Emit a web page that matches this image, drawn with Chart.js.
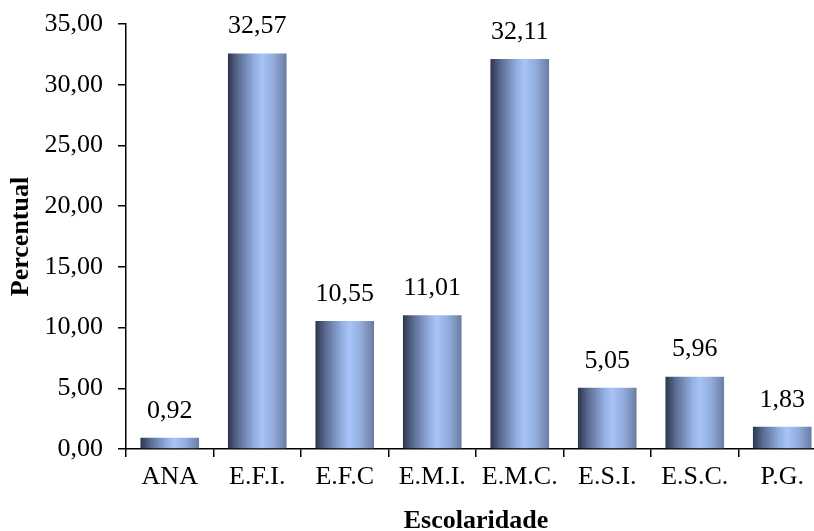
<!DOCTYPE html>
<html>
<head>
<meta charset="utf-8">
<script src="https://cdn.jsdelivr.net/npm/chart.js@4/dist/chart.umd.min.js"></script>
<style>
  html, body { margin: 0; padding: 0; background: #fff; overflow: hidden; }
  #wrap { width: 826px; height: 531px; }
</style>
</head>
<body>
<div id="wrap"><canvas id="chart"></canvas></div>
<script>
// escolaridade categories and percent values
const categories = ['ANA', 'E.F.I.', 'E.F.C', 'E.M.I.', 'E.M.C.', 'E.S.I.', 'E.S.C.', 'P.G.'];
const percentual = [0.92, 32.57, 10.55, 11.01, 32.11, 5.05, 5.96, 1.83];
const yTicks = [0, 5, 10, 15, 20, 25, 30, 35];

const FONT = "'Liberation Serif', 'Times New Roman', serif";
const SIZE = 26;
const fmt = v => v.toFixed(2).replace('.', ',');

// gives every bar its own left-to-right shaded gradient (cylinder look)
const barShade = {
  id: 'barShade',
  beforeDatasetsDraw(chart) {
    const ctx = chart.ctx;
    chart.getDatasetMeta(0).data.forEach(bar => {
      const x0 = bar.x - bar.width / 2, x1 = bar.x + bar.width / 2;
      const g = ctx.createLinearGradient(x0, 0, x1, 0);
      g.addColorStop(0, '#2c364c');
      g.addColorStop(0.18, '#5c6d95');
      g.addColorStop(0.45, '#93aee0');
      g.addColorStop(0.58, '#a7c4f8');
      g.addColorStop(0.78, '#92abdb');
      g.addColorStop(1, '#6a7ca3');
      // options object is shared between bars, so copy it first
      bar.options = Object.assign({}, bar.options, { backgroundColor: g });
    });
  }
};

// value labels above bars
const valueLabels = {
  id: 'valueLabels',
  afterDatasetsDraw(chart) {
    const ctx = chart.ctx;
    ctx.save();
    ctx.font = SIZE + 'px ' + FONT;
    ctx.fillStyle = '#000';
    ctx.textAlign = 'center';
    ctx.textBaseline = 'middle';
    chart.getDatasetMeta(0).data.forEach((bar, i) => {
      ctx.fillText(fmt(percentual[i]), bar.x, bar.y - 27);
    });
    ctx.restore();
  }
};

new Chart(document.getElementById('chart'), {
  type: 'bar',
  data: {
    labels: categories,
    datasets: [{
      data: percentual,
      backgroundColor: '#8fa9dc',
      borderWidth: 0,
      barPercentage: 0.67,
      categoryPercentage: 1
    }]
  },
  options: {
    responsive: true,
    maintainAspectRatio: false,
    animation: false,
    layout: { padding: { top: 24, left: 0, right: 0, bottom: 0 } },
    plugins: { legend: { display: false }, tooltip: { enabled: false } },
    scales: {
      x: {
        grid: { display: true, drawOnChartArea: false, offset: true, color: '#000', tickLength: 8, lineWidth: 1.5 },
        border: { display: true, color: '#000', width: 1.5 },
        ticks: { color: '#000', font: { family: FONT, size: SIZE }, padding: 5, maxRotation: 0 },
        title: { display: true, text: 'Escolaridade', color: '#000', font: { family: FONT, size: SIZE, weight: 'bold', lineHeight: 0.75 }, padding: { top: 8, bottom: 0 } },
        afterFit(scale) { scale.height = 82; }
      },
      y: {
        min: 0,
        max: 35,
        afterBuildTicks(scale) { scale.ticks = yTicks.map(v => ({ value: v })); },
        grid: { display: true, drawOnChartArea: false, color: '#000', tickLength: 8, lineWidth: 1.5 },
        border: { display: true, color: '#000', width: 1.5 },
        ticks: { color: '#000', font: { family: FONT, size: SIZE }, padding: 15, callback: v => fmt(v) },
        title: { display: true, text: 'Percentual', color: '#000', font: { family: FONT, size: SIZE, weight: 'bold' }, padding: { top: 6, bottom: 0 } },
        afterFit(scale) {
          scale.width = 126;
          scale.paddingTop = 0;
          scale.paddingBottom = 0;
        }
      }
    }
  },
  plugins: [barShade, valueLabels]
});
</script>
</body>
</html>
